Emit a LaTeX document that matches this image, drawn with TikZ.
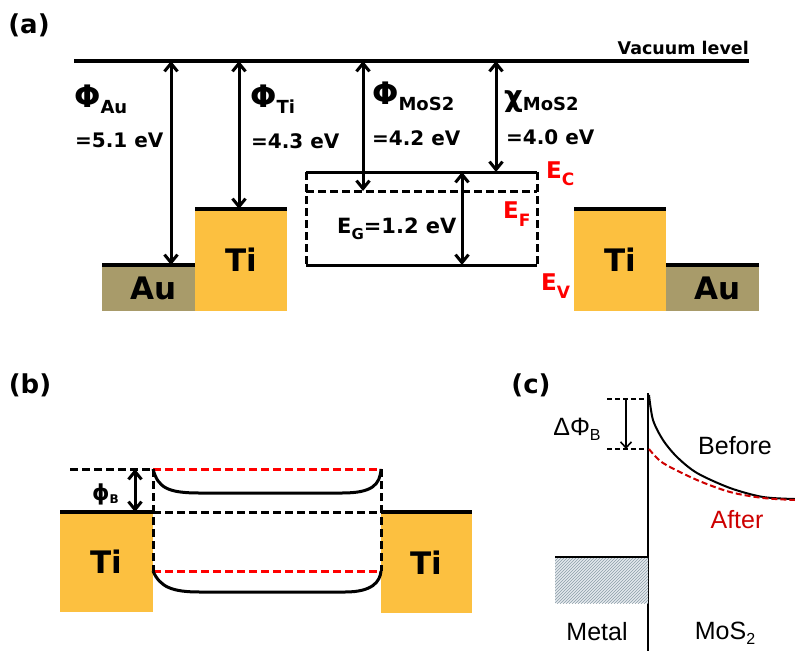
\documentclass[tikz,border=0pt]{standalone}
\usepackage{fontspec}
\setmainfont{DejaVu Sans}
\newfontfamily\arialfont{Liberation Sans}
\usetikzlibrary{positioning,arrows.meta,patterns}
\definecolor{tiorange}{RGB}{252,192,64}
\definecolor{auolive}{RGB}{168,155,106}
\definecolor{hatchline}{RGB}{140,158,168}
\definecolor{hatchfill}{RGB}{228,233,237}
\definecolor{afterred}{RGB}{205,0,0}
\newcommand{\fsz}[1]{\fontsize{#1}{#1}\selectfont}

\begin{document}
\begin{tikzpicture}[x=1pt, y=-1pt,
  box/.style={anchor=north west, inner sep=0, font=\bfseries\fsz{31}},
  tibox/.style={box, fill=tiorange, minimum width=92pt, minimum height=102pt},
  aubox/.style={box, fill=auolive, minimum width=93pt, minimum height=46pt},
  topline/.style={line width=3.6pt},
  level/.style={line width=3pt},
  dashlevel/.style={line width=3pt, dash pattern=on 8pt off 4pt},
  dbl/.style={line width=3pt, {Straight Barb[length=8pt,width=13pt]}-{Straight Barb[length=8pt,width=13pt]}},
  wf/.style={anchor=base west, inner sep=0, font=\bfseries},
  band/.style={anchor=base west, inner sep=0, font=\bfseries, text=red},
  panel/.style={inner sep=0, font=\bfseries\fsz{26}},
  clabel/.style={inner sep=0, font=\arialfont\fsz{25}},
]
\useasboundingbox (0,0) rectangle (795,651);

% (a)
\node[panel] (pa) at (29,25) {(a)};
\coordinate (vacL) at (74,61);
\coordinate (vacR) at (749,61);
\draw[topline] (vacL) -- (vacR);
\node[wf, anchor=base east] (vac) at (749,54) {\fsz{17.5}Vacuum level};

\node[aubox] (au1) at (102,265) {\hspace*{9pt}Au};
\node[tibox] (ti1) at (195,209) {Ti};
\node[tibox] (ti2) at (574,209) {Ti};
\node[aubox] (au2) at (666,265) {\hspace*{9pt}Au};
\foreach \b in {au1,ti1,ti2,au2}
  \draw[topline] (\b.north west) -- (\b.north east);

\coordinate (ecL) at (306,172);
\coordinate (ecR) at (537,172);
\coordinate (efL) at (306,191);
\coordinate (efR) at (537,191);
\coordinate (evL) at (306,265);
\coordinate (evR) at (537,265);
\draw[level] (ecL) -- (ecR);
\draw[level] (evL) -- (evR);
\draw[dashlevel] (efL) -- (efR);
\draw[dashlevel] (ecL) -- (evL);
\draw[dashlevel] (ecR) -- (evR);

\coordinate (aAu) at (171,61);
\coordinate (aTi) at (239,61);
\coordinate (aMo) at (363,61);
\coordinate (aChi) at (496,61);
\coordinate (aEg) at (462,172);
\draw[dbl] (aAu) -- (aAu |- au1.north);
\draw[dbl] (aTi) -- (aTi |- ti1.north);
\draw[dbl] (aMo) -- (aMo |- efL);
\draw[dbl] (aChi) -- (aChi |- ecL);
\draw[dbl] (aEg) -- (aEg |- evL);

\node[wf] (phiAu) at (74,107) {\fsz{31}Φ\raisebox{-6pt}{\fsz{18}Au}};
\node[wf] (valAu) at (75,147) {\fsz{20}=5.1 eV};
\node[wf] (phiTi) at (250,107) {\fsz{31}Φ\raisebox{-6pt}{\fsz{18}Ti}};
\node[wf] (valTi) at (251,148) {\fsz{20}=4.3 eV};
\node[wf] (phiMo) at (372,104) {\fsz{31}Φ\raisebox{-6pt}{\fsz{18}MoS2}};
\node[wf] (valMo) at (372,145) {\fsz{20}=4.2 eV};
\node[wf] (chiMo) at (504,106) {\fsz{29}χ\raisebox{-4pt}{\fsz{18}MoS2}};
\node[wf] (valChi) at (506,144) {\fsz{20}=4.0 eV};
\node[wf] (eg) at (337,233) {\fsz{21}E\raisebox{-6pt}{\fsz{15}G}=1.2 eV};

\node[band] (ec) at (546,178) {\fsz{23}E\raisebox{-7pt}{\fsz{17}C}};
\node[band] (ef) at (503,218) {\fsz{23}E\raisebox{-8pt}{\fsz{17}F}};
\node[band] (ev) at (541,290) {\fsz{23}E\raisebox{-8pt}{\fsz{17}V}};

% (b)
\node[panel] (pb) at (30,385) {(b)};
\node[tibox, minimum width=93pt, minimum height=100pt] (ti3) at (60,512) {Ti};
\node[tibox, minimum width=91pt, minimum height=101pt] (ti4) at (381,512) {Ti};
\foreach \b in {ti3,ti4}
  \draw[topline] (\b.north west) -- (\b.north east);

\coordinate (cbL) at (70,469);
\coordinate (cbA) at (153,469);
\coordinate (cbB) at (381,469);
\coordinate (mA) at (153,512);
\coordinate (mB) at (381,512);
\coordinate (vbA) at (153,571);
\coordinate (vbB) at (381,571);
\draw[dashlevel] (cbL) -- (cbA);
\draw[dashlevel, red] (cbA) -- (cbB);
\draw[dashlevel] (mA) -- (mB);
\draw[dashlevel, red] (vbA) -- (vbB);
\draw[dashlevel] (cbA) -- (vbA);
\draw[dashlevel] (cbB) -- (vbB);
\draw[level] (cbA) .. controls (158,488) and (168,493) .. (200,493)
  -- (342,493) .. controls (372,493) and (380,485) .. (cbB);
\draw[level] (vbA) .. controls (160,587) and (172,592) .. (200,592)
  -- (345,592) .. controls (372,592) and (380,582) .. (vbB);

\coordinate (aPb) at (135,469);
\draw[dbl] (aPb) -- (aPb |- ti3.north);
\node[wf] (phiB) at (92,500) {\fsz{22}ϕ\raisebox{-3pt}{\fsz{12}B}};

% (c)
\node[panel] (pc) at (531,385) {(c)};
\coordinate (iTop) at (648,393);
\coordinate (iBot) at (648,651);
\draw[line width=2pt] (iTop) -- (iBot);
\node[anchor=north west, inner sep=0, minimum width=93pt, minimum height=46pt,
  preaction={fill=hatchfill}, pattern=north east lines, pattern color=hatchline]
  (metal) at (555,557) {};
\draw[line width=2pt] (metal.north west) -- (metal.north east);

\coordinate (dTop) at (607,399);
\coordinate (dBot) at (607,449);
\coordinate (aD) at (626,399);
\draw[line width=1.6pt, dash pattern=on 5pt off 3pt] (dTop) -- (dTop -| iTop);
\draw[line width=1.6pt, dash pattern=on 5pt off 3pt] (dBot) -- (dBot -| iTop);
\draw[line width=1.6pt, -{Straight Barb[length=6pt,width=11pt]}] (aD) -- (aD |- dBot);
\node[clabel] (dphi) at (577,429) {ΔΦ\raisebox{-5pt}{\fsz{16}B}};

\draw[line width=2pt] plot[smooth] coordinates
  {(649,395) (653,420) (663,440) (677,457) (697,473) (730,488) (763,497) (795,499)};
\draw[line width=2pt, afterred, dash pattern=on 6pt off 3pt] plot[smooth] coordinates
  {(649,449) (663,463) (697,480) (730,492) (763,498) (795,500)};

\node[clabel] (before) at (735,446) {Before};
\node[clabel, text=afterred] (after) at (737,520) {After};
\node[clabel] (metallbl) at (597,632) {Metal};
\node[clabel] (moslbl) at (725,633) {MoS\raisebox{-5pt}{\fsz{16}2}};
\end{tikzpicture}
\end{document}
